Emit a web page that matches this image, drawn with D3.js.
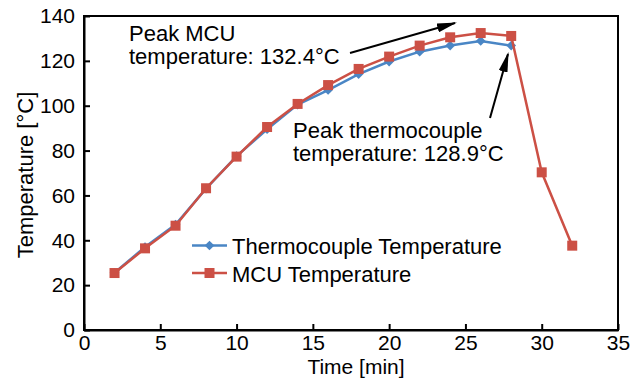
<!DOCTYPE html>
<html>
<head>
<meta charset="utf-8">
<script src="https://cdn.jsdelivr.net/npm/d3@7"></script>
<style>
  body { margin: 0; background: #fff; }
  text { font-family: "Liberation Sans", Arial, sans-serif; fill: #000; }
</style>
</head>
<body>
<div id="chart"></div>
<script>
const tcTimes = [2, 4, 6, 8, 10, 12, 14, 16, 18, 20, 22, 24, 26, 28];
const tcTemps = [25.5, 37, 47, 63, 77.5, 89.5, 100.5, 107, 114.1, 119.7, 124.1, 126.8, 128.9, 126.8];
const mcuTimes = [2, 4, 6, 8, 10, 12, 14, 16, 18, 20, 22, 24, 26, 28, 30, 32];
const mcuTemps = [25.4, 36.4, 46.5, 63.2, 77.3, 90.5, 100.8, 109.2, 116.4, 121.9, 126.8, 130.5, 132.4, 131.1, 70.3, 37.6];
const xTicks = [0, 5, 10, 15, 20, 25, 30, 35];
const yTicks = [0, 20, 40, 60, 80, 100, 120, 140];

const width = 631;
const height = 382;
const margin = {top: 16, right: 13, bottom: 52, left: 84};

const blue = "#4a86c5";
const red = "#cc5045";
const fs = "22px";

const svg = d3.select("#chart")
    .append("svg")
    .attr("width", width)
    .attr("height", height);

const x = d3.scaleLinear().domain([0, 35]).range([margin.left, width - margin.right]);
const y = d3.scaleLinear().domain([0, 140]).range([height - margin.bottom, margin.top]);

// frame
svg.append("rect")
    .attr("x", x(0))
    .attr("y", y(140))
    .attr("width", x(35) - x(0))
    .attr("height", y(0) - y(140))
    .attr("fill", "none")
    .attr("stroke", "#000")
    .attr("stroke-width", 2);

const xAxis = svg.append("g")
    .attr("transform", `translate(0,${y(0)})`)
    .call(d3.axisBottom(x).tickValues(xTicks).tickSizeInner(-6).tickSizeOuter(0).tickPadding(5));

const yAxis = svg.append("g")
    .attr("transform", `translate(${x(0)},0)`)
    .call(d3.axisLeft(y).tickValues(yTicks).tickSizeInner(-6).tickSizeOuter(0).tickPadding(9));

[xAxis, yAxis].forEach(g => {
    g.select(".domain").attr("stroke", "#000").attr("stroke-width", 2);
    g.selectAll(".tick line").attr("stroke", "#000").attr("stroke-width", 2);
    g.selectAll(".tick text")
        .style("font-family", "'Liberation Sans', Arial, sans-serif")
        .style("font-size", "21px")
        .attr("fill", "#000");
});

svg.append("text")
    .attr("x", 356)
    .attr("y", 374)
    .attr("text-anchor", "middle")
    .style("font-size", "21px")
    .text("Time [min]");

svg.append("text")
    .attr("transform", `translate(33,175) rotate(-90)`)
    .attr("text-anchor", "middle")
    .style("font-size", fs)
    .text("Temperature [°C]");

const line = d3.line().x(d => x(d[0])).y(d => y(d[1]));
const tcData = tcTimes.map((t, i) => [t, tcTemps[i]]);
const mcuData = mcuTimes.map((t, i) => [t, mcuTemps[i]]);

svg.append("path")
    .datum(tcData)
    .attr("d", line)
    .attr("fill", "none")
    .attr("stroke", blue)
    .attr("stroke-width", 2.5);

svg.selectAll(".tc")
    .data(tcData)
    .enter()
    .append("path")
    .attr("class", "tc")
    .attr("transform", d => `translate(${x(d[0])},${y(d[1])})`)
    .attr("d", d3.symbol().type(d3.symbolDiamond2).size(60))
    .attr("fill", blue);

svg.append("path")
    .datum(mcuData)
    .attr("d", line)
    .attr("fill", "none")
    .attr("stroke", red)
    .attr("stroke-width", 2.5);

svg.selectAll(".mcu")
    .data(mcuData)
    .enter()
    .append("rect")
    .attr("class", "mcu")
    .attr("x", d => x(d[0]) - 5)
    .attr("y", d => y(d[1]) - 5)
    .attr("width", 10)
    .attr("height", 10)
    .attr("fill", red);

// legend
const legend = [
    {name: "Thermocouple Temperature", color: blue, yy: 245.5, shape: "diamond"},
    {name: "MCU Temperature", color: red, yy: 273, shape: "square"}
];
legend.forEach(l => {
    svg.append("line")
        .attr("x1", 192).attr("x2", 227)
        .attr("y1", l.yy).attr("y2", l.yy)
        .attr("stroke", l.color).attr("stroke-width", 2.5);
    if (l.shape === "diamond") {
        svg.append("path")
            .attr("transform", `translate(209.5,${l.yy})`)
            .attr("d", d3.symbol().type(d3.symbolDiamond2).size(60))
            .attr("fill", l.color);
    } else {
        svg.append("rect")
            .attr("x", 204.5).attr("y", l.yy - 5)
            .attr("width", 10).attr("height", 10)
            .attr("fill", l.color);
    }
    svg.append("text")
        .attr("x", 232)
        .attr("y", l.yy + 8.5)
        .style("font-size", fs)
        .text(l.name);
});

// annotations
svg.append("defs").append("marker")
    .attr("id", "arrow")
    .attr("viewBox", "0 0 20 9")
    .attr("refX", 18).attr("refY", 4.5)
    .attr("markerWidth", 10).attr("markerHeight", 4.5)
    .attr("orient", "auto")
    .append("path")
    .attr("d", "M0,0 L20,4.5 L0,9 z")
    .attr("fill", "#000");

svg.append("line")
    .attr("x1", 350).attr("y1", 53)
    .attr("x2", 455).attr("y2", 23)
    .attr("stroke", "#000").attr("stroke-width", 2)
    .attr("marker-end", "url(#arrow)");

svg.append("line")
    .attr("x1", 490).attr("y1", 118)
    .attr("x2", 508).attr("y2", 54)
    .attr("stroke", "#000").attr("stroke-width", 2)
    .attr("marker-end", "url(#arrow)");

const notes = [
    {x: 129, y: 41, text: "Peak MCU"},
    {x: 129, y: 64, text: "temperature: 132.4°C"},
    {x: 293, y: 138, text: "Peak thermocouple"},
    {x: 293, y: 161, text: "temperature: 128.9°C"}
];
svg.selectAll(".note")
    .data(notes)
    .enter()
    .append("text")
    .attr("class", "note")
    .attr("x", d => d.x)
    .attr("y", d => d.y)
    .style("font-size", fs)
    .text(d => d.text);
</script>
</body>
</html>
